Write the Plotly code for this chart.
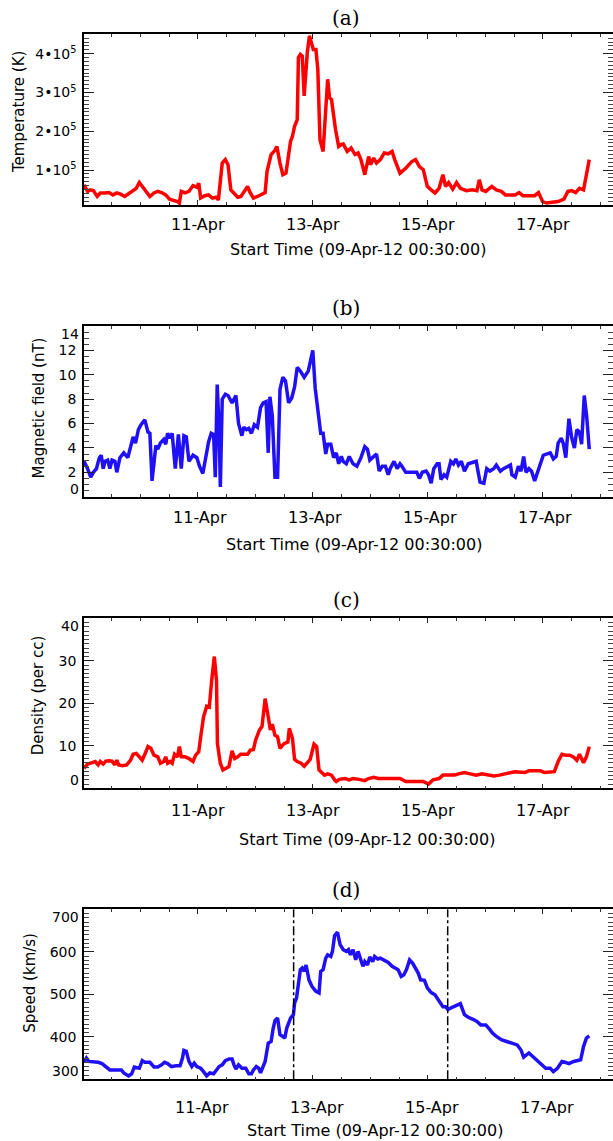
import plotly.graph_objects as go
from datetime import datetime, timedelta

# ---------------- data ----------------
start_time = datetime(2012, 4, 9, 0, 30)
x_end_hours = 220.8
x_tick_dates = ["2012-04-11", "2012-04-13", "2012-04-15", "2012-04-17"]
x_tick_labels = ["11-Apr", "13-Apr", "15-Apr", "17-Apr"]
x_title = "Start Time (09-Apr-12 00:30:00)"

temp_hours = [0.0, 1.5, 2.6, 3.9, 5.5, 6.8, 8.8, 10.4, 12.1, 13.7, 15.3, 17.0, 18.6, 20.2, 21.8, 23.1,
              24.3, 25.9, 27.5, 29.2, 30.8, 32.4, 34.1, 35.7, 37.3, 39.0, 39.8, 40.6, 42.2, 43.8, 45.5,
              47.1, 47.9, 48.7, 50.4, 52.0, 53.6, 55.3, 56.1, 57.7, 59.0, 60.1, 61.3, 62.6, 64.2, 65.5,
              67.5, 68.3, 69.1, 70.7, 72.4, 74.0, 75.6, 76.4, 78.1, 79.7, 80.5, 81.8, 83.0, 84.3, 85.4,
              86.2, 87.0, 87.9, 89.0, 89.5, 90.3, 91.1, 91.9, 93.2, 94.1, 94.9, 95.7, 96.8, 97.6, 98.5,
              99.8, 100.9, 101.7, 102.5, 103.3, 105.0, 106.3, 107.4, 108.2, 109.9, 111.5, 113.1, 114.4,
              115.6, 117.2, 118.8, 119.6, 120.9, 122.1, 123.7, 125.3, 127.0, 128.6, 129.7, 131.9, 134.3,
              136.8, 138.4, 140.0, 141.6, 143.3, 144.9, 146.5, 148.2, 149.8, 150.9, 152.2, 153.9, 155.5,
              157.1, 159.6, 162.0, 164.0, 165.0, 166.1, 167.7, 170.2, 172.1, 174.2, 175.9, 178.3, 180.0,
              181.6, 183.2, 185.7, 188.1, 189.7, 191.4, 193.0, 195.4, 197.9, 200.3, 202.0, 203.6, 205.2,
              206.8, 208.5, 209.3, 210.9]
temp_K = [62000, 45000, 49000, 47000, 32000, 41000, 41000, 42000, 36000, 41000, 38000, 32000, 39000,
          47000, 53000, 68000, 58000, 42000, 32000, 41000, 45000, 42000, 36000, 25000, 23000, 19000,
          15000, 45000, 41000, 45000, 60000, 56000, 66000, 28000, 34000, 36000, 28000, 30000, 23000,
          118000, 127000, 114000, 49000, 41000, 30000, 32000, 49000, 58000, 45000, 28000, 32000, 36000,
          42000, 97000, 140000, 151000, 161000, 118000, 88000, 92000, 135000, 174000, 187000, 213000,
          230000, 390000, 398000, 394000, 291000, 403000, 446000, 428000, 411000, 411000, 359000,
          178000, 148000, 256000, 334000, 286000, 282000, 204000, 161000, 166000, 167000, 148000,
          157000, 140000, 144000, 127000, 88000, 135000, 114000, 131000, 118000, 127000, 144000,
          142000, 148000, 127000, 92000, 105000, 122000, 127000, 109000, 101000, 58000, 49000, 41000,
          53000, 88000, 58000, 68000, 51000, 68000, 53000, 47000, 49000, 47000, 75000, 49000, 45000,
          58000, 49000, 45000, 36000, 36000, 36000, 42000, 34000, 34000, 34000, 42000, 19000, 15000,
          16000, 19000, 25000, 45000, 47000, 42000, 53000, 49000, 75000, 127000]

bfield_hours = [0.0, 1.5, 2.8, 3.9, 5.2, 6.4, 7.2, 8.0, 8.8, 9.9, 10.8, 11.7, 12.9, 13.7, 15.0, 16.6,
                18.3, 19.4, 20.5, 21.5, 22.7, 23.8, 25.4, 26.7, 27.5, 28.4, 30.0, 30.8, 31.9, 33.3,
                34.1, 34.9, 35.9, 36.8, 38.1, 39.4, 40.6, 41.7, 42.7, 43.8, 45.5, 47.1, 48.2, 49.6,
                50.7, 52.0, 53.1, 54.1, 54.8, 55.6, 56.4, 56.9, 57.7, 59.0, 60.1, 61.8, 63.4, 64.5,
                65.9, 66.7, 67.8, 68.8, 69.9, 71.1, 72.4, 73.7, 74.8, 76.0, 76.9, 77.6, 78.6, 79.7,
                80.8, 81.8, 83.0, 84.1, 85.4, 86.7, 87.9, 89.0, 90.3, 91.9, 93.6, 94.4, 95.5, 96.5,
                97.6, 98.8, 99.8, 100.9, 101.7, 103.0, 104.2, 105.3, 106.3, 107.4, 108.2, 109.5,
                110.7, 112.3, 113.9, 115.6, 117.2, 118.3, 119.3, 120.5, 122.1, 123.2, 124.5, 125.8,
                127.0, 127.8, 129.4, 130.7, 131.9, 132.7, 134.3, 136.8, 138.9, 140.0, 141.2, 142.8,
                143.8, 144.9, 146.0, 147.4, 148.2, 149.0, 150.3, 151.4, 153.1, 154.2, 155.2, 156.3,
                157.5, 158.8, 160.4, 163.7, 165.3, 166.9, 168.1, 169.4, 171.0, 172.1, 173.8, 175.1,
                176.7, 178.0, 178.6, 180.0, 181.3, 182.4, 183.5, 184.5, 185.7, 186.8, 188.1, 189.7,
                190.5, 191.7, 193.0, 194.6, 195.9, 197.1, 197.9, 199.2, 200.0, 201.1, 202.4, 203.6,
                204.7, 205.7, 206.8, 207.7, 208.8, 209.8, 210.9]
bfield_nT = [2.9, 2.3, 1.6, 2.0, 2.3, 3.2, 3.4, 2.3, 2.9, 3.0, 2.3, 3.0, 2.9, 2.0, 3.2, 3.6, 3.2, 4.2,
             4.9, 4.4, 5.5, 5.9, 6.3, 5.3, 5.2, 1.3, 4.2, 3.9, 4.4, 4.7, 4.3, 5.2, 4.8, 5.2, 2.3, 5.1,
             2.3, 5.0, 4.9, 2.9, 3.4, 3.2, 2.5, 1.9, 3.2, 4.5, 5.2, 5.1, 1.6, 9.2, 5.5, 0.8, 8.0, 8.4,
             8.3, 7.7, 8.3, 6.0, 5.0, 5.7, 5.5, 5.6, 5.2, 5.9, 5.7, 7.3, 7.7, 7.8, 3.6, 8.2, 6.6, 1.6,
             1.6, 8.8, 9.8, 9.5, 7.7, 8.1, 9.0, 10.6, 10.3, 9.8, 10.3, 11.1, 12.0, 8.9, 6.9, 5.2, 5.2,
             3.5, 4.3, 4.3, 3.2, 3.6, 2.7, 3.3, 2.9, 2.7, 3.3, 2.7, 2.5, 3.2, 4.1, 3.9, 3.0, 3.2, 3.5,
             2.1, 2.5, 2.5, 1.8, 2.3, 2.9, 2.3, 2.7, 2.5, 2.0, 2.0, 2.0, 1.5, 2.0, 2.1, 1.8, 1.1, 2.3,
             2.7, 2.7, 1.4, 1.8, 1.6, 2.9, 2.7, 3.1, 2.6, 2.9, 2.1, 2.7, 2.9, 1.2, 1.1, 2.3, 2.1, 2.3,
             2.6, 2.1, 2.3, 2.5, 2.6, 1.8, 1.6, 2.5, 2.1, 3.3, 2.0, 2.3, 2.1, 1.3, 2.3, 2.7, 3.4, 3.5,
             3.6, 3.1, 3.3, 4.4, 4.8, 4.4, 3.2, 6.4, 4.8, 4.0, 5.5, 5.3, 4.3, 8.3, 6.6, 3.9]

dens_hours = [0.0, 1.5, 3.1, 4.7, 5.9, 6.8, 8.0, 9.1, 10.4, 11.7, 12.9, 13.7, 14.5, 16.1, 17.8, 19.4,
              20.5, 21.8, 23.1, 24.3, 25.4, 26.7, 27.9, 29.2, 30.8, 31.9, 33.3, 34.1, 34.9, 36.0, 36.8,
              37.8, 39.0, 39.8, 40.6, 42.2, 43.8, 45.5, 46.6, 47.9, 48.7, 49.9, 51.2, 52.3, 53.3, 54.4,
              55.3, 55.7, 56.9, 58.0, 59.3, 60.5, 61.8, 62.9, 64.2, 65.4, 66.7, 68.3, 69.4, 70.7, 71.6,
              73.2, 74.3, 75.6, 76.9, 77.8, 78.6, 79.7, 80.8, 81.8, 83.5, 85.1, 85.7, 87.0, 87.9, 89.0,
              90.6, 91.9, 93.2, 94.4, 96.0, 97.1, 98.1, 99.3, 100.4, 101.7, 103.3, 104.6, 105.3, 106.6,
              109.0, 110.7, 112.3, 114.8, 117.2, 118.8, 120.9, 122.9, 125.3, 127.8, 130.2, 131.9, 134.3,
              136.8, 139.2, 141.6, 143.8, 145.7, 148.2, 149.8, 152.2, 154.7, 156.3, 158.8, 161.2, 163.7,
              166.1, 168.5, 171.0, 173.4, 175.9, 178.3, 180.0, 182.4, 184.0, 185.7, 188.1, 190.5, 192.2,
              194.6, 196.3, 197.9, 199.5, 201.1, 202.8, 204.4, 205.7, 206.8, 208.5, 209.7, 210.9]
dens_cc = [4.7, 5.7, 6.0, 6.3, 5.5, 6.3, 5.7, 6.4, 6.5, 6.4, 5.5, 6.6, 5.5, 5.3, 5.5, 6.6, 8.0, 8.2, 7.4,
           6.6, 8.0, 9.8, 9.4, 7.8, 7.4, 5.9, 6.3, 7.4, 5.9, 6.3, 5.9, 8.0, 7.4, 9.8, 7.4, 7.4, 7.0, 6.3,
           7.8, 8.6, 12.1, 16.8, 19.3, 19.1, 25.4, 31.0, 25.4, 10.5, 5.9, 4.3, 4.7, 5.1, 8.8, 7.0, 7.4,
           8.0, 8.0, 8.0, 9.0, 9.1, 11.3, 13.7, 14.5, 21.1, 16.8, 13.7, 15.1, 12.5, 12.1, 9.4, 10.5,
           10.9, 14.1, 11.7, 6.8, 6.3, 5.9, 5.2, 6.0, 6.8, 10.4, 9.8, 4.3, 3.7, 3.1, 3.4, 3.1, 2.0, 1.6,
           2.1, 2.3, 2.0, 2.3, 2.1, 1.8, 2.3, 2.6, 2.3, 2.3, 2.3, 2.1, 2.3, 1.6, 1.6, 1.6, 1.6, 1.0, 2.0,
           2.3, 3.1, 3.1, 3.1, 3.4, 3.7, 3.4, 3.1, 3.4, 3.1, 2.9, 3.1, 3.5, 3.7, 3.9, 3.9, 3.7, 4.1, 4.1,
           4.1, 3.7, 3.7, 3.9, 6.3, 8.0, 7.8, 7.8, 7.3, 6.6, 8.0, 6.0, 7.4, 9.8]

speed_hours = [0.0, 1.0, 2.0, 3.9, 5.9, 7.5, 9.1, 10.8, 12.9, 15.6, 16.6, 18.6, 19.9, 21.0, 23.1, 24.3,
               25.4, 27.5, 29.2, 30.8, 32.4, 33.6, 34.9, 36.5, 38.5, 40.1, 41.1, 41.7, 42.7, 43.8, 45.0,
               46.0, 47.1, 48.7, 49.9, 51.2, 52.5, 54.1, 55.3, 56.4, 57.7, 59.0, 60.6, 61.8, 62.6, 63.4,
               64.5, 65.9, 67.5, 68.8, 69.9, 70.7, 71.9, 72.9, 73.7, 74.8, 75.6, 76.9, 78.1, 78.9, 79.7,
               80.8, 81.8, 83.0, 83.8, 84.6, 86.2, 87.4, 87.9, 88.7, 89.5, 90.3, 91.1, 91.9, 92.7, 93.9,
               95.2, 96.8, 98.1, 98.8, 99.8, 100.9, 101.7, 103.0, 103.7, 104.6, 105.8, 106.9, 108.2,
               109.5, 110.4, 111.2, 112.3, 113.4, 114.4, 115.6, 116.4, 117.2, 118.3, 119.3, 120.5,
               121.3, 122.6, 123.7, 125.3, 127.0, 128.6, 129.7, 131.1, 132.4, 133.5, 134.6, 135.9,
               137.2, 138.4, 139.5, 140.5, 142.1, 143.3, 144.9, 146.5, 148.2, 149.8, 150.9, 151.9,
               153.9, 155.5, 157.1, 158.8, 160.4, 162.8, 164.0, 165.6, 167.7, 169.4, 170.5, 172.1,
               174.2, 176.4, 178.3, 180.8, 182.4, 183.5, 185.7, 187.3, 188.9, 191.0, 192.7, 194.6,
               195.9, 197.6, 199.5, 200.8, 202.4, 204.4, 206.0, 207.3, 208.5, 209.7, 210.9]
speed_kms = [340, 350, 342, 342, 340, 337, 330, 322, 322, 322, 315, 308, 313, 329, 326, 344, 340, 340,
             329, 329, 334, 340, 337, 330, 332, 332, 350, 368, 366, 342, 330, 338, 330, 326, 318, 308,
             315, 313, 322, 330, 334, 344, 348, 348, 334, 324, 334, 326, 326, 313, 313, 322, 330, 326,
             315, 330, 342, 385, 389, 418, 438, 444, 405, 401, 397, 420, 444, 452, 479, 491, 525, 558,
             562, 554, 569, 534, 518, 507, 503, 554, 558, 585, 593, 589, 601, 638, 646, 617, 605, 601,
             605, 593, 605, 581, 601, 583, 566, 577, 569, 588, 577, 589, 583, 585, 581, 575, 566, 562,
             558, 542, 546, 558, 581, 573, 562, 550, 534, 533, 515, 504, 499, 483, 471, 471, 464, 470,
             473, 478, 452, 446, 440, 436, 428, 428, 417, 409, 401, 393, 389, 385, 381, 369, 352, 362,
             354, 344, 334, 326, 326, 318, 326, 342, 340, 337, 342, 344, 346, 377, 397, 402]

event_hours = [87.5, 151.8]

# ---------------- layout helpers ----------------
W, H = 613, 1141
ML = 84
SANS = "DejaVu Sans"
SERIF = "DejaVu Serif"
RED = "#ff0000"
BLUE = "#2010f5"


def dates(hours):
    return [start_time + timedelta(hours=h) for h in hours]


def ydom(top_px, bot_px):
    return [1 - bot_px / H, 1 - top_px / H]


def px_x(px):
    # paper x is measured across the plot area (left margin excluded)
    return (px - ML) / (W - ML)


def px_y(py):
    return 1 - py / H


panels = [
    dict(hours=temp_hours, vals=temp_K, color=RED, top=34.3, bot=205.0,
         yrange=[1e4, 4.5e5], ytickvals=[1e5, 2e5, 3e5, 4e5],
         yticktext=["1\u202210<sup>5</sup>", "2\u202210<sup>5</sup>", "3\u202210<sup>5</sup>", "4\u202210<sup>5</sup>"],
         yminor=1e4, ytitle="Temperature (K)", ytx=19.5, yty=112.5, letter="(a)", lty=17.5,
         xstand=4, xshift=0, xtx=358, xty=250, shifted=False),
    dict(hours=bfield_hours, vals=bfield_nT, color=BLUE, top=326.0, bot=496.7,
         yrange=[0, 14], ytickvals=[0, 2, 4, 6, 8, 10, 12, 14],
         yticktext=["0", "2", "4", "6", "8", "10", "12", "14"],
         yminor=0.5, ytitle="Magnetic field (nT)", ytx=38.5, yty=408, letter="(b)", lty=308.3,
         xstand=5, xshift=2, xtx=354, xty=544, shifted=True),
    dict(hours=dens_hours, vals=dens_cc, color=RED, top=618.3, bot=788.3,
         yrange=[0, 40], ytickvals=[0, 10, 20, 30, 40],
         yticktext=["0", "10", "20", "30", "40"],
         yminor=1, ytitle="Density (per cc)", ytx=38.3, yty=695, letter="(c)", lty=600,
         xstand=7, xshift=0, xtx=367, xty=839, shifted=True),
    dict(hours=speed_hours, vals=speed_kms, color=BLUE, top=909.3, bot=1079.3,
         yrange=[300, 700], ytickvals=[300, 400, 500, 600, 700],
         yticktext=["300", "400", "500", "600", "700"],
         yminor=10, ytitle="Speed (km/s)", ytx=29.7, yty=983, letter="(d)", lty=890,
         xstand=13, xshift=4, xtx=375, xty=1130, shifted=True),
]

fig = go.Figure()
annotations = []
shapes = []
xr = [start_time, start_time + timedelta(hours=x_end_hours)]

for i, p in enumerate(panels, start=1):
    sx = "" if i == 1 else str(i)
    xa, ya = "x" + sx, "y" + sx
    fig.add_trace(go.Scatter(x=dates(p["hours"]), y=p["vals"], mode="lines",
                             line=dict(color=p["color"], width=3.5),
                             xaxis=xa, yaxis=ya, showlegend=False, hoverinfo="skip"))
    tickvals = list(p["ytickvals"])
    ticktext = list(p["yticktext"])
    if p["shifted"]:
        # end labels (at the frame edges) drawn separately, nudged inside the frame
        for j, sh in ((0, 8), (len(ticktext) - 1, -8)):
            annotations.append(dict(xref="paper", yref=ya, x=0, y=p["ytickvals"][j],
                                    text=p["yticktext"][j], showarrow=False, xanchor="right",
                                    yanchor="middle", xshift=-3, yshift=sh,
                                    font=dict(family=SANS, size=14, color="black")))
        tickvals = tickvals[1:-1]
        ticktext = ticktext[1:-1]
    fig.update_layout(**{
        ("xaxis" + sx): dict(
            domain=[0, 1], anchor=ya, type="date", range=xr,
            tickmode="array", tickvals=x_tick_dates, ticktext=x_tick_labels,
            ticks="inside", ticklen=5, tickwidth=1, tickcolor="#222",
            minor=dict(dtick=12 * 3600 * 1000, tick0="2012-04-09", ticks="inside",
                       ticklen=3, tickwidth=1, tickcolor="#333"),
            showline=True, linecolor="black", linewidth=1.5, mirror="allticks",
            showgrid=False, zeroline=False, automargin=False,
            tickfont=dict(family=SANS, size=16, color="black"),
            ticklabelstandoff=p["xstand"], ticklabelshift=p["xshift"]),
        ("yaxis" + sx): dict(
            domain=ydom(p["top"], p["bot"]), anchor=xa, range=p["yrange"],
            tickmode="array", tickvals=tickvals, ticktext=ticktext,
            ticks="inside", ticklen=10, tickwidth=1, tickcolor="#222",
            minor=dict(dtick=p["yminor"], tick0=0, ticks="inside", ticklen=5,
                       tickwidth=1, tickcolor="#444"),
            showline=True, linecolor="black", linewidth=1.5, mirror="allticks",
            showgrid=False, zeroline=False, automargin=False,
            tickfont=dict(family=SANS, size=14, color="black"),
            ticklabelstandoff=3),
    })
    annotations.append(dict(xref="paper", yref="paper", x=px_x(346), y=px_y(p["lty"]),
                            text=p["letter"], showarrow=False, xanchor="center", yanchor="middle",
                            font=dict(family=SERIF, size=20, color="black")))
    annotations.append(dict(xref="paper", yref="paper", x=px_x(p["xtx"]), y=px_y(p["xty"]),
                            text=x_title, showarrow=False, xanchor="center", yanchor="middle",
                            font=dict(family=SANS, size=16, color="black")))
    annotations.append(dict(xref="paper", yref="paper", x=px_x(p["ytx"]), y=px_y(p["yty"]),
                            text=p["ytitle"], showarrow=False, textangle=-90,
                            xanchor="center", yanchor="middle",
                            font=dict(family=SANS, size=15, color="black")))

# dash-dot event markers in panel (d)
for h in event_hours:
    t = start_time + timedelta(hours=h)
    shapes.append(dict(type="line", xref="x4", yref="y4 domain", x0=t, x1=t, y0=0, y1=1,
                       line=dict(color="black", width=1.5, dash="dashdot")))

fig.update_layout(width=W, height=H, margin=dict(l=ML, r=0, t=0, b=0),
                  paper_bgcolor="white", plot_bgcolor="white",
                  annotations=annotations, shapes=shapes)

fig.write_html("out.html")
